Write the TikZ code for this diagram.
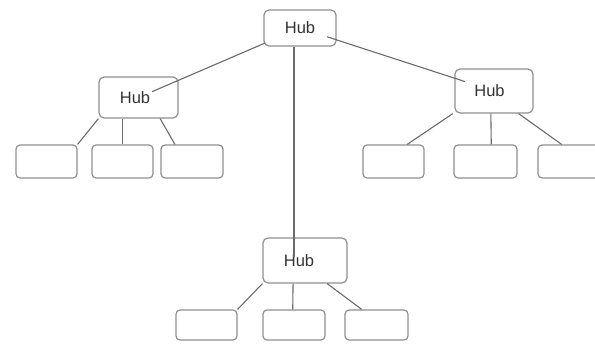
\documentclass[tikz,border=0pt]{standalone}
\usepackage{fontspec}
\setmainfont{Liberation Sans}
\usetikzlibrary{calc}
\tikzset{
  hubbox/.style={draw=boxgray, line width=1.2pt, rounded corners=5pt, inner sep=0pt, font=\fontsize{16.5}{18}\selectfont, text=black!80},
  leafbox/.style={draw=boxgray, line width=1.2pt, rounded corners=4pt, inner sep=0pt, minimum width=61pt, minimum height=33pt},
  link/.style={draw=linegray, line width=1.1pt}
}
\definecolor{boxgray}{HTML}{8F8F8F}
\definecolor{linegray}{HTML}{6A6A6A}
\begin{document}
\begin{tikzpicture}[x=1pt,y=-1pt]
\useasboundingbox (0,0) rectangle (595,346);
% hubs
\node[hubbox, minimum width=72pt, minimum height=36pt] (th) at (300,28) {Hub};
\node[hubbox, minimum width=79pt, minimum height=41pt] (lh) at (138.5,97.5) {Hub\kern7pt};
\node[hubbox, minimum width=78pt, minimum height=44pt] (rh) at (494,91) {Hub\kern9pt};
\node[hubbox, minimum width=84pt, minimum height=45pt] (bh) at (305,260.5) {Hub\kern12pt};
% leaves
\node[leafbox] (l1) at (46.5,161.5) {};
\node[leafbox] (l2) at (122.5,161.5) {};
\node[leafbox, minimum width=62pt] (l3) at (192,161.5) {};
\node[leafbox] (r1) at (393.5,161.5) {};
\node[leafbox, minimum width=63pt] (r2) at (485.5,161.5) {};
\node[leafbox] (r3) at (568.5,161.5) {};
\node[leafbox, minimum height=30pt] (b1) at (206.5,325) {};
\node[leafbox, minimum width=62pt, minimum height=30pt] (b2) at (294,325) {};
\node[leafbox, minimum width=63pt, minimum height=30pt] (b3) at (376.5,325) {};
% top connectors
\draw[link] ($(th.center)!0.217!(lh.center)$) -- ($(th.center)!0.916!(lh.center)$);
\draw[link] ($(th.center)!0.139!(rh.center)$) -- ($(th.center)!0.85!(rh.center)$);
\draw[link] ($(th.south)+(-6,0)$) -- ($(bh.center)+(-11,-3.5)$);
% left group
\draw[link] (lh.south west) -- (l1.north east);
\draw[link] (l2.north |- lh.south) -- (l2.north);
\draw[link] ($(lh.south west)!0.77!(lh.south east)$) -- ($(l3.north west)!0.23!(l3.north east)$);
% right group
\draw[link] ($(rh.south west)!-0.02!(rh.south east)$) -- ($(r1.north west)!0.72!(r1.north east)$);
\draw[link] ($(rh.south west)!0.46!(rh.south east)$) -- ($(r2.north west)!0.59!(r2.north east)$);
\draw[link] ($(rh.south west)!0.81!(rh.south east)$) -- ($(r3.north west)!0.39!(r3.north east)$);
% bottom group
\draw[link] (bh.south west) -- (b1.north east);
\draw[link] ($(bh.south west)!0.36!(bh.south east)$) -- ($(b2.north west)!0.48!(b2.north east)$);
\draw[link] ($(bh.south west)!0.76!(bh.south east)$) -- ($(b3.north west)!0.27!(b3.north east)$);
\end{tikzpicture}
\end{document}
